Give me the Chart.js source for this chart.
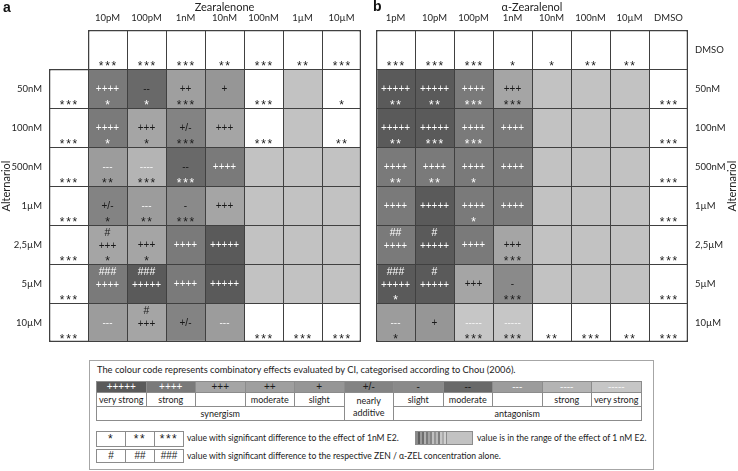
<!DOCTYPE html>
<html>
<head>
<meta charset="utf-8">
<script src="https://cdn.jsdelivr.net/npm/chart.js@4.4.1/dist/chart.umd.min.js"></script>
<style>
  body { margin: 0; background: #fff; width: 738px; height: 471px; position: relative; overflow: hidden; font-family: Lato, "Liberation Sans", sans-serif; color: #222; }
  canvas { position: absolute; top: 0; }
  #chartA { left: 0; }
  #chartB { left: 370px; }
  .letter { position: absolute; font: bold 14px "Liberation Sans", Arial, sans-serif; color: #111; }
  #legend { position: absolute; left: 89px; top: 360px; width: 565px; height: 110px; box-sizing: border-box; border: 1px solid #a6a6a6; font-size: 9px; }
  #legend .ltitle { position: absolute; left: 7px; top: 3px; font-size: 9.3px; line-height: 12px; white-space: nowrap; }
  #strip { position: absolute; left: 6px; top: 20px; width: 545px; border-collapse: collapse; table-layout: fixed; }
  #strip td { border: 1px solid #8c8c8c; padding: 0; text-align: center; white-space: nowrap; font-size: 9px; line-height: 11px; color: #1a1a1a; }
  #strip tr.sym td { height: 10px; font-family: "Liberation Sans", sans-serif; font-size: 10px; line-height: 10px; }
  #strip tr.nm td { height: 13px; }
  #strip tr.grp td { height: 13px; }
  .keys { position: absolute; left: 6px; border-collapse: collapse; table-layout: fixed; }
  .keys td { width: 28px; height: 12px; border: 1px solid #8c8c8c; text-align: center; padding: 0; font-family: "Liberation Sans", sans-serif; font-size: 10px; line-height: 12px; color: #1a1a1a; }
  .keys.st td { font-size: 12px; letter-spacing: 1.5px; line-height: 14px; }
  .ktext { position: absolute; white-space: nowrap; font-size: 8.6px; line-height: 14px; color: #1a1a1a; }
  #swatch { position: absolute; left: 325px; top: 70px; width: 58px; height: 14px; box-sizing: border-box; border: 1px solid #8c8c8c; display: flex; }
  #swatch .stripes { width: 30px; height: 100%; background: linear-gradient(to right, #8a8a8a 0 2px, #5e5e5e 2px 4px, #9a9a9a 4px 6px, #6e6e6e 6px 8px, #b0b0b0 8px 10px, #7a7a7a 10px 12px, #a2a2a2 12px 14px, #868686 14px 16px, #c0c0c0 16px 18px, #949494 18px 20px, #b8b8b8 20px 22px, #7e7e7e 22px 24px, #c6c6c6 24px 26px, #aaaaaa 26px 28px, #d0d0d0 28px 30px); }
  #swatch .plain { flex: 1; height: 100%; background: #c2c2c2; border-left: 1px solid #8c8c8c; }
</style>
</head>
<body>
<canvas id="chartA" width="370" height="360"></canvas>
<canvas id="chartB" width="368" height="360"></canvas>
<div class="letter" style="left:3px; top:-1px;">a</div>
<div class="letter" style="left:373px; top:-2px;">b</div>

<div id="legend">
  <div class="ltitle">The colour code represents combinatory effects evaluated by CI, categorised according to Chou (2006).</div>
  <table id="strip"></table>
  <table class="keys st" style="top:70px;"><tr><td>*</td><td>**</td><td>***</td></tr></table>
  <div class="ktext" style="left:97px; top:70px;">value with significant difference to the effect of 1nM E2.</div>
  <div id="swatch"><div class="stripes"></div><div class="plain"></div></div>
  <div class="ktext" style="left:387px; top:70px;">value is in the range of the effect of 1 nM E2.</div>
  <table class="keys" style="top:88px;"><tr><td>#</td><td>##</td><td>###</td></tr></table>
  <div class="ktext" style="left:97px; top:88px;">value with significant difference to the respective ZEN / α-ZEL concentration alone.</div>
</div>

<script>
// codes: "w" = white cell, "r" = in range of 1 nM E2, null = no cell, otherwise CI category
// ---- panel a: Zearalenone x Alternariol ----
const zenCols = ["", "10pM", "100pM", "1nM", "10nM", "100nM", "1µM", "10µM"];
const zenRows = ["", "50nM", "100nM", "500nM", "1µM", "2,5µM", "5µM", "10µM"];
const zenEffect = [
  [null, "w", "w", "w", "w", "w", "w", "w"],
  ["w", "++++", "--", "++", "+", "w", "r", "w"],
  ["w", "++++", "+++", "+/-", "+++", "w", "r", "w"],
  ["w", "---", "----", "--", "++++", "r", "r", "r"],
  ["w", "+/-", "---", "-", "+++", "r", "r", "r"],
  ["w", "+++", "+++", "++++", "+++++", "r", "r", "r"],
  ["w", "++++", "+++++", "++++", "+++++", "r", "r", "r"],
  ["w", "---", "+++", "+/-", "---", "w", "w", "w"],
];
const zenStars = [
  ["", "***", "***", "***", "**", "***", "**", "***"],
  ["***", "*", "*", "***", "", "***", "", "*"],
  ["***", "*", "*", "***", "", "***", "", "**"],
  ["***", "**", "***", "***", "", "", "", ""],
  ["***", "*", "**", "***", "", "", "", ""],
  ["***", "*", "*", "", "", "", "", ""],
  ["***", "", "", "", "", "", "", ""],
  ["***", "", "", "", "", "***", "***", "***"],
];
const zenHash = [
  ["", "", "", "", "", "", "", ""],
  ["", "", "", "", "", "", "", ""],
  ["", "", "", "", "", "", "", ""],
  ["", "", "", "", "", "", "", ""],
  ["", "", "", "", "", "", "", ""],
  ["", "#", "", "", "", "", "", ""],
  ["", "###", "###", "", "", "", "", ""],
  ["", "", "#", "", "", "", "", ""],
];

// ---- panel b: α-Zearalenol x Alternariol ----
const zelCols = ["1pM", "10pM", "100pM", "1nM", "10nM", "100nM", "10µM", "DMSO"];
const zelRows = ["DMSO", "50nM", "100nM", "500nM", "1µM", "2,5µM", "5µM", "10µM"];
const zelEffect = [
  ["w", "w", "w", "w", "w", "w", "w", "w"],
  ["+++++", "+++++", "++++", "+++", "r", "r", "r", "w"],
  ["+++++", "+++++", "++++", "++++", "r", "r", "r", "w"],
  ["++++", "++++", "++++", "++++", "r", "r", "r", "w"],
  ["++++", "+++++", "++++", "++++", "r", "r", "r", "w"],
  ["++++", "+++++", "++++", "+++", "r", "r", "r", "w"],
  ["+++++", "+++++", "+++", "-", "r", "r", "r", "w"],
  ["---", "+", "-----", "-----", "w", "w", "w", "w"],
];
const zelStars = [
  ["***", "***", "***", "*", "*", "**", "**", ""],
  ["**", "**", "***", "***", "", "", "", "***"],
  ["**", "***", "***", "", "", "", "", "***"],
  ["**", "**", "*", "", "", "", "", "***"],
  ["", "", "*", "", "", "", "", "***"],
  ["", "", "", "***", "", "", "", "***"],
  ["*", "", "", "***", "", "", "", "***"],
  ["*", "", "***", "***", "**", "***", "**", "***"],
];
const zelHash = [
  ["", "", "", "", "", "", "", ""],
  ["", "", "", "", "", "", "", ""],
  ["", "", "", "", "", "", "", ""],
  ["", "", "", "", "", "", "", ""],
  ["", "", "", "", "", "", "", ""],
  ["##", "#", "", "", "", "", "", ""],
  ["###", "#", "", "", "", "", "", ""],
  ["", "", "", "", "", "", "", ""],
];

// ---- CI categories (legend) ----
const effectSymbols = ["+++++", "++++", "+++", "++", "+", "+/-", "-", "--", "---", "----", "-----"];
const effectNames = ["very strong", "strong", "", "moderate", "slight", "nearly additive", "slight", "moderate", "", "strong", "very strong"];
const effectColors = ["#5a5a5a", "#7a7a7a", "#a5a5a5", "#9f9f9f", "#969696", "#838383", "#8a8a8a", "#696969", "#9c9c9c", "#b4b4b4", "#c6c6c6"];
const effectInk = ["#ffffff", "#ffffff", "#1a1a1a", "#1a1a1a", "#1a1a1a", "#1a1a1a", "#1a1a1a", "#1a1a1a", "#f4f4f4", "#f4f4f4", "#f4f4f4"];
const whiteFill = "#ffffff";
const rangeFill = "#c2c2c2";

function fillFor(code) {
  if (code === "w") return whiteFill;
  if (code === "r") return rangeFill;
  return effectColors[effectSymbols.indexOf(code)];
}

function isDark(hex) {
  return parseInt(hex.slice(1, 3), 16) < 0x80;
}

// borders: shared edges drawn once, outer edges slightly heavier
function borderFor(effect) {
  const has = (r, c) => effect[r] !== undefined && effect[r][c] !== undefined && effect[r][c] !== null;
  return (ctx) => {
    const r = ctx.datasetIndex, c = ctx.dataIndex;
    return {
      top: has(r - 1, c) ? 1 : 1.5,
      left: has(r, c - 1) ? 1 : 1.5,
      right: has(r, c + 1) ? 0 : 1.5,
      bottom: has(r + 1, c) ? 0 : 1.5,
    };
  };
}

function drawSpaced(ctx, str, cx, y, gap) {
  const w = (str.length - 1) * gap;
  for (let i = 0; i < str.length; i++) {
    ctx.fillText(str[i], cx - w / 2 + i * gap, y);
  }
}

// texts inside the cells + panel titles
const cellTextPlugin = {
  id: "cellText",
  afterDatasetsDraw(chart, args, opts) {
    const { ctx, chartArea } = chart;
    const x = chart.scales.x, y = chart.scales.y;
    ctx.save();
    ctx.textAlign = "center";
    opts.effect.forEach((row, r) => {
      const top = y.getPixelForValue(r);
      row.forEach((code, c) => {
        if (code === null) return;
        const cx = x.getPixelForValue(c);
        const fill = fillFor(code);
        const ink = isDark(fill) ? "#ffffff" : "#1a1a1a";
        const hash = opts.hash[r][c];
        const stars = opts.stars[r][c];
        if (hash) {
          ctx.fillStyle = ink;
          ctx.font = '10.5px "Liberation Sans"';
          ctx.textBaseline = "middle";
          ctx.fillText(hash, cx, top + 8.5);
        }
        const k = effectSymbols.indexOf(code);
        if (k >= 0) {
          ctx.fillStyle = effectInk[k];
          ctx.font = '10px "Liberation Sans"';
          ctx.textBaseline = "middle";
          ctx.fillText(code, cx, top + (hash ? 21.5 : 20.5));
        }
        if (stars) {
          ctx.fillStyle = ink;
          ctx.font = '12px "Liberation Sans"';
          ctx.textBaseline = "alphabetic";
          drawSpaced(ctx, stars, cx, top + 40, 6.3);
        }
      });
    });
    // column group title
    ctx.fillStyle = "#222";
    ctx.font = "11px Lato";
    ctx.textBaseline = "middle";
    const tx = (x.getPixelForValue(opts.titleFrom) + x.getPixelForValue(opts.titleTo)) / 2;
    ctx.fillText(opts.title, tx, chartArea.top - 23);
    if (opts.sideTitle) {
      ctx.translate(chart.width - 6, (chartArea.top + chartArea.bottom) / 2);
      ctx.rotate(-Math.PI / 2);
      ctx.fillText(opts.sideTitle, 0, 0);
    }
    ctx.restore();
  },
};

function makePanel(canvasId, cols, rows, effect, stars, hash, cfg) {
  const datasets = effect.map((row, r) => ({
    data: row.map((code) => (code === null ? null : [r, r + 1])),
    backgroundColor: row.map((code) => (code === null ? "rgba(0,0,0,0)" : fillFor(code))),
    borderColor: "#404040",
    borderWidth: borderFor(effect),
    borderSkipped: false,
    inflateAmount: 0,
    grouped: false,
    barPercentage: 1,
    categoryPercentage: 1,
  }));

  return new Chart(document.getElementById(canvasId), {
    type: "bar",
    data: { labels: cols, datasets: datasets },
    options: {
      responsive: false,
      animation: false,
      events: [],
      layout: { padding: cfg.padding },
      plugins: {
        legend: { display: false },
        tooltip: { enabled: false },
        cellText: {
          effect: effect, stars: stars, hash: hash,
          title: cfg.title, titleFrom: cfg.titleFrom, titleTo: cfg.titleTo,
          sideTitle: cfg.sideTitle,
        },
      },
      scales: {
        x: {
          position: "top",
          grid: { display: false, drawTicks: false },
          border: { display: false },
          ticks: { font: { family: "Lato", size: 9.5 }, color: "#262626", padding: 6, maxRotation: 0, autoSkip: false },
          afterFit: (s) => { s.height = 30; },
        },
        y: {
          type: "linear",
          min: 0,
          max: 8,
          reverse: true,
          position: cfg.yPosition,
          grid: { display: false, drawTicks: false },
          border: { display: false },
          afterBuildTicks: (s) => { s.ticks = rows.map((_, i) => ({ value: i + 0.5 })); },
          ticks: {
            font: { family: "Lato", size: 9.5 },
            color: "#262626",
            padding: 7,
            autoSkip: false,
            callback: (v, i) => rows[i],
          },
          title: cfg.yTitle,
          afterFit: (s) => { s.width = cfg.yWidth; },
        },
      },
    },
    plugins: [cellTextPlugin],
  });
}

makePanel("chartA", zenCols, zenRows, zenEffect, zenStars, zenHash, {
  padding: { left: 0, right: 9, top: 0, bottom: 18 },
  yPosition: "left",
  yWidth: 49,
  yTitle: { display: true, text: "Alternariol", font: { family: "Lato", size: 11 }, color: "#222", padding: 0 },
  title: "Zearalenone", titleFrom: 1, titleTo: 7,
});

makePanel("chartB", zelCols, zelRows, zelEffect, zelStars, zelHash, {
  padding: { left: 6, right: 0, top: 0, bottom: 18 },
  yPosition: "right",
  yWidth: 50,
  yTitle: { display: false },
  title: "α-Zearalenol", titleFrom: 0, titleTo: 7,
  sideTitle: "Alternariol",
});

// legend colour strip
const strip = document.getElementById("strip");
let html = "<colgroup>" + effectSymbols.map(() => '<col style="width:49.5px">').join("") + "</colgroup>";
html += '<tr class="sym">' + effectSymbols.map((s, i) =>
  `<td style="background:${effectColors[i]};color:${effectInk[i]}">${s}</td>`).join("") + "</tr>";
html += '<tr class="nm">' + effectNames.map((n, i) =>
  i === 5 ? '<td rowspan="2" style="line-height:12px">nearly<br>additive</td>' : `<td>${n}</td>`).join("") + "</tr>";
html += '<tr class="grp"><td colspan="5">synergism</td><td colspan="5">antagonism</td></tr>';
strip.innerHTML = html;
</script>
</body>
</html>
